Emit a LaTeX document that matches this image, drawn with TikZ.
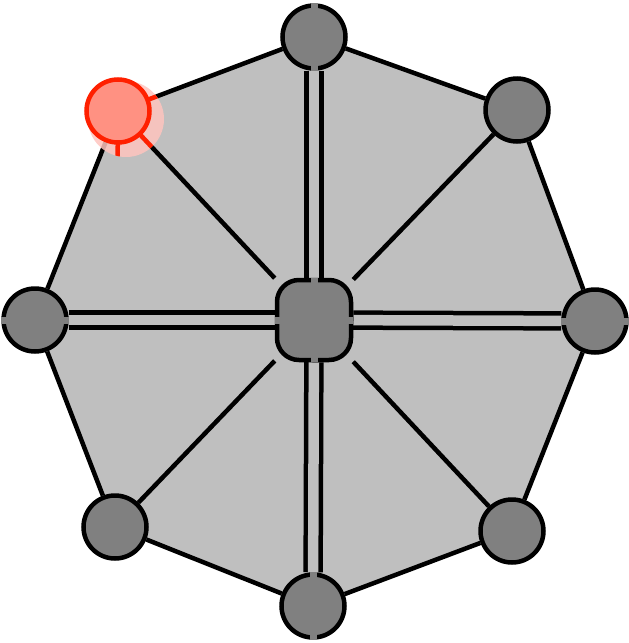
\documentclass[tikz,border=0pt]{standalone}
\usetikzlibrary{backgrounds}
\definecolor{hotfill}{RGB}{255,145,130}
\definecolor{hotline}{RGB}{255,32,0}
\definecolor{halo}{RGB}{255,196,190}

\begin{document}
\begin{tikzpicture}[x=1pt, y=-1pt,
  outer/.style={circle, fill=gray, draw=black, line width=4.5pt, minimum size=63pt, inner sep=0pt},
  hot/.style={outer, fill=hotfill, draw=hotline},
  hub/.style={rectangle, rounded corners=22pt, fill=gray, draw=black, line width=4.5pt,
    minimum width=74pt, minimum height=80pt},
  rim/.style={line width=4.5pt},
  spoke/.style={line width=4.5pt},
  twin/.style={line width=4.5pt, double=gray!50, double distance=10.5pt},
  notch/.style={gray, line width=7pt}]
  \useasboundingbox (0,0) rectangle (629,643);
  % ring of nodes
  \node[outer] (t)  at (314,37)  {};
  \node[outer] (tr) at (517,110) {};
  \node[outer] (r)  at (595,321) {};
  \node[outer] (br) at (512,531) {};
  \node[outer] (b)  at (313,606) {};
  \node[outer] (bl) at (115,527) {};
  \node[outer] (l)  at (35,320)  {};
  \node[hot]   (tl) at (118,111) {};
  % hub
  \node[hub] (c) at (314,320) {};
  \begin{scope}[on background layer]
    % octagon
    \fill[gray!50] (t.center) -- (tr.center) -- (r.center) -- (br.center) -- (b.center)
      -- (bl.center) -- (l.center) -- (tl.center) -- cycle;
    \draw[rim] (t) -- (tr) -- (r) -- (br) -- (b) -- (bl) -- (l) -- (tl) -- (t);
    % spokes
    \draw[spoke] (tl) -- (c);
    \draw[spoke] (tr) -- (c);
    \draw[spoke] (br) -- (c);
    \draw[spoke] (bl) -- (c);
    \draw[twin] (t) -- (c);
    \draw[twin] (b) -- (c);
    \draw[twin] (l) -- (c);
    \draw[twin] (r) -- (c);
    % highlight
    \fill[halo, opacity=0.85] (126,119) circle (38);
    \begin{scope}
      \clip (126,119) circle (38);
      \draw[rim, hotline] (tl.center) -- (t.center);
      \draw[rim, hotline] (tl.center) -- (bl.center);
      \draw[rim, hotline] (tl.center) -- (c.center);
    \end{scope}
  \end{scope}
  % breaks in the borders
  \draw[notch] (t.north) -- (t.south);
  \draw[notch] (b.north) -- (b.south);
  \draw[notch] (l.west) -- (l.east);
  \draw[notch] (r.west) -- (r.east);
  \draw[notch] (c.north) -- (c.south);
  \draw[notch] (c.west) -- (c.east);
\end{tikzpicture}
\end{document}
